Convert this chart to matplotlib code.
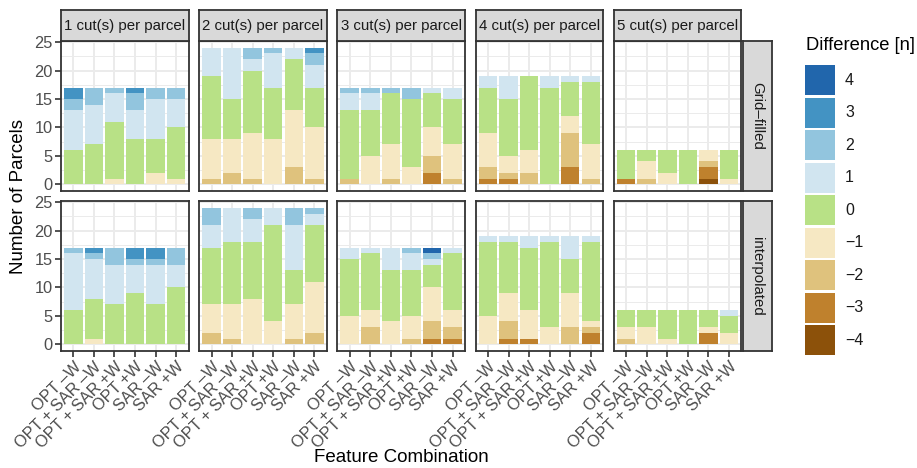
import matplotlib
matplotlib.use("Agg")
import matplotlib.pyplot as plt
from matplotlib.patches import Patch
import numpy as np

plt.rcParams['font.family'] = ['Liberation Sans', 'DejaVu Sans']

# ---------------- data ----------------
features = ["OPT –W", "OPT + SAR –W", "OPT + SAR +W", "OPT +W", "SAR –W", "SAR +W"]
cut_labels = ["1 cut(s) per parcel", "2 cut(s) per parcel", "3 cut(s) per parcel",
              "4 cut(s) per parcel", "5 cut(s) per parcel"]
method_labels = ["Grid–filled", "interpolated"]
diff_levels = [-4, -3, -2, -1, 0, 1, 2, 3, 4]
diff_labels = ["−4", "−3", "−2", "−1", "0", "1", "2", "3", "4"]
diff_colors = ['#8C510A', '#BF812D', '#DFC27D', '#F6E8C3', '#B8E186',
               '#D1E5F0', '#92C5DE', '#4393C3', '#2166AC']
y_ticks = [0, 5, 10, 15, 20, 25]

# counts per feature (rows) for difference levels -4..4 (columns)
grid_cut1 = [[0, 0, 0, 0, 6, 7, 2, 2, 0],
             [0, 0, 0, 0, 7, 7, 3, 0, 0],
             [0, 0, 0, 1, 10, 5, 1, 0, 0],
             [0, 0, 0, 0, 8, 5, 3, 1, 0],
             [0, 0, 0, 2, 6, 7, 2, 0, 0],
             [0, 0, 0, 1, 9, 5, 2, 0, 0]]
grid_cut2 = [[0, 0, 1, 7, 11, 5, 0, 0, 0],
             [0, 0, 2, 6, 7, 9, 0, 0, 0],
             [0, 0, 1, 8, 11, 2, 2, 0, 0],
             [0, 0, 0, 8, 9, 6, 1, 0, 0],
             [0, 0, 3, 10, 9, 2, 0, 0, 0],
             [0, 0, 1, 9, 7, 4, 2, 1, 0]]
grid_cut3 = [[0, 0, 1, 0, 12, 3, 1, 0, 0],
             [0, 0, 0, 5, 8, 3, 1, 0, 0],
             [0, 0, 1, 6, 9, 0, 1, 0, 0],
             [0, 0, 0, 3, 12, 0, 2, 0, 0],
             [0, 2, 3, 5, 6, 1, 0, 0, 0],
             [0, 0, 1, 6, 8, 2, 0, 0, 0]]
grid_cut4 = [[0, 1, 2, 6, 8, 2, 0, 0, 0],
             [0, 1, 1, 3, 10, 4, 0, 0, 0],
             [0, 0, 2, 4, 13, 0, 0, 0, 0],
             [0, 0, 0, 0, 17, 2, 0, 0, 0],
             [0, 3, 6, 3, 6, 1, 0, 0, 0],
             [0, 0, 1, 6, 11, 1, 0, 0, 0]]
grid_cut5 = [[0, 1, 0, 0, 5, 0, 0, 0, 0],
             [0, 0, 1, 3, 2, 0, 0, 0, 0],
             [0, 0, 0, 2, 4, 0, 0, 0, 0],
             [0, 0, 0, 0, 6, 0, 0, 0, 0],
             [1, 2, 1, 2, 0, 0, 0, 0, 0],
             [0, 0, 0, 1, 5, 0, 0, 0, 0]]

interp_cut1 = [[0, 0, 0, 0, 6, 10, 1, 0, 0],
               [0, 0, 0, 1, 7, 7, 1, 1, 0],
               [0, 0, 0, 0, 7, 7, 3, 0, 0],
               [0, 0, 0, 0, 9, 5, 1, 2, 0],
               [0, 0, 0, 0, 7, 7, 1, 2, 0],
               [0, 0, 0, 0, 10, 4, 3, 0, 0]]
interp_cut2 = [[0, 0, 2, 5, 10, 4, 3, 0, 0],
               [0, 0, 1, 6, 11, 6, 0, 0, 0],
               [0, 0, 0, 8, 10, 4, 2, 0, 0],
               [0, 0, 0, 4, 17, 3, 0, 0, 0],
               [0, 0, 1, 6, 6, 8, 3, 0, 0],
               [0, 0, 2, 9, 10, 2, 1, 0, 0]]
interp_cut3 = [[0, 0, 0, 5, 10, 2, 0, 0, 0],
               [0, 0, 3, 3, 10, 1, 0, 0, 0],
               [0, 0, 0, 4, 9, 4, 0, 0, 0],
               [0, 0, 1, 4, 8, 3, 1, 0, 0],
               [0, 1, 3, 6, 4, 1, 1, 0, 1],
               [0, 1, 2, 3, 10, 1, 0, 0, 0]]
interp_cut4 = [[0, 0, 0, 5, 13, 1, 0, 0, 0],
               [0, 1, 3, 5, 9, 1, 0, 0, 0],
               [0, 1, 0, 5, 11, 2, 0, 0, 0],
               [0, 0, 0, 3, 15, 1, 0, 0, 0],
               [0, 0, 3, 6, 6, 4, 0, 0, 0],
               [0, 2, 1, 1, 14, 1, 0, 0, 0]]
interp_cut5 = [[0, 0, 1, 2, 3, 0, 0, 0, 0],
               [0, 0, 0, 3, 3, 0, 0, 0, 0],
               [0, 0, 0, 1, 5, 0, 0, 0, 0],
               [0, 0, 0, 0, 6, 0, 0, 0, 0],
               [0, 2, 0, 1, 3, 0, 0, 0, 0],
               [0, 0, 0, 2, 3, 1, 0, 0, 0]]

panels = [[grid_cut1, grid_cut2, grid_cut3, grid_cut4, grid_cut5],
          [interp_cut1, interp_cut2, interp_cut3, interp_cut4, interp_cut5]]

# ---------------- layout ----------------
W, H = 917, 468
fig = plt.figure(figsize=(W / 100, H / 100), dpi=100)
fig.patch.set_facecolor('white')

pl = [61 + i * 138.2 for i in range(5)]
pw = 127.5
rt = [41, 201]
ph = 150
border = '#333333'
tick_col = '#4D4D4D'
fs_tick = 11.8

def fig_rect(x, y, w, h):
    return [x / W, 1 - (y + h) / H, w / W, h / H]

x = np.arange(1, len(features) + 1)
for r in range(2):
    for c in range(5):
        ax = fig.add_axes(fig_rect(pl[c], rt[r], pw, ph))
        ax.set_facecolor('white')
        data = np.array(panels[r][c])
        bottom = np.zeros(len(features))
        for k, lev in enumerate(diff_levels):
            vals = data[:, k]
            ax.bar(x, vals, width=0.9, bottom=bottom, color=diff_colors[k],
                   linewidth=0, zorder=3)
            bottom = bottom + vals
        ax.set_xlim(0.4, 6.6)
        ax.set_ylim(-1.2, 25.2)
        ax.set_yticks(y_ticks)
        ax.set_yticks([2.5, 7.5, 12.5, 17.5, 22.5], minor=True)
        ax.set_xticks(x)
        ax.grid(True, which='major', color='#EBEBEB', linewidth=1.4, zorder=0)
        ax.grid(True, which='minor', axis='y', color='#EBEBEB', linewidth=0.7, zorder=0)
        ax.set_axisbelow(True)
        for s in ax.spines.values():
            s.set_color(border)
            s.set_linewidth(1.3)
            s.set_zorder(5)
        ax.tick_params(which='minor', length=0)
        ax.tick_params(which='major', length=4, width=1.2, color=border,
                       labelsize=fs_tick, labelcolor=tick_col, pad=2)
        if c == 0:
            ax.set_yticklabels([str(v) for v in y_ticks])
        else:
            ax.tick_params(axis='y', length=0, labelleft=False)
        if r == 1:
            ax.set_xticklabels(features, rotation=45, ha='right',
                               rotation_mode='anchor')
            for lbl in ax.get_xticklabels():
                lbl.set_va('top')
        else:
            ax.tick_params(axis='x', length=0, labelbottom=False)

# top strips
for c in range(5):
    sax = fig.add_axes(fig_rect(pl[c], 10, pw, 30.5))
    sax.set_facecolor('#D9D9D9')
    sax.set_xticks([]); sax.set_yticks([])
    for s in sax.spines.values():
        s.set_color(border); s.set_linewidth(1.3)
    sax.text(0.5, 0.48, cut_labels[c], ha='center', va='center',
             fontsize=10.8, color='#1A1A1A', transform=sax.transAxes)

# right strips
for r in range(2):
    sax = fig.add_axes(fig_rect(pl[4] + pw + 1.5, rt[r], 29, ph))
    sax.set_facecolor('#D9D9D9')
    sax.set_xticks([]); sax.set_yticks([])
    for s in sax.spines.values():
        s.set_color(border); s.set_linewidth(1.3)
    sax.text(0.5, 0.5, method_labels[r], ha='center', va='center', rotation=-90,
             fontsize=10.8, color='#1A1A1A', transform=sax.transAxes)

# axis titles
fig.text(19 / W, 1 - 196 / H, "Number of Parcels", rotation=90, ha='center',
         va='center', fontsize=13.5)
fig.text(401 / W, 1 - 457 / H, "Feature Combination", ha='center', va='center',
         fontsize=13.5)

# legend
fs_leg = 11.5
F = fs_leg * 100 / 72.0
key = 30.0
hl = key / F
hh = (key / F - 0.245) / 0.65
fig.text(806 / W, 1 - 46 / H, "Difference [n]", ha='left', va='center',
         fontsize=13.2)
handles = [Patch(facecolor=diff_colors[k], edgecolor='none') for k in range(8, -1, -1)]
labels = [diff_labels[k] for k in range(8, -1, -1)]
leg = fig.legend(handles, labels, loc='upper left',
                 bbox_to_anchor=(805 / W, 1 - 65 / H), frameon=False,
                 borderpad=0, borderaxespad=0, handlelength=hl, handleheight=hh,
                 labelspacing=2.5 / F, handletextpad=10 / F, fontsize=fs_leg)
for t in leg.get_texts():
    t.set_color('#1A1A1A')

fig.savefig("out.png", dpi=100)
